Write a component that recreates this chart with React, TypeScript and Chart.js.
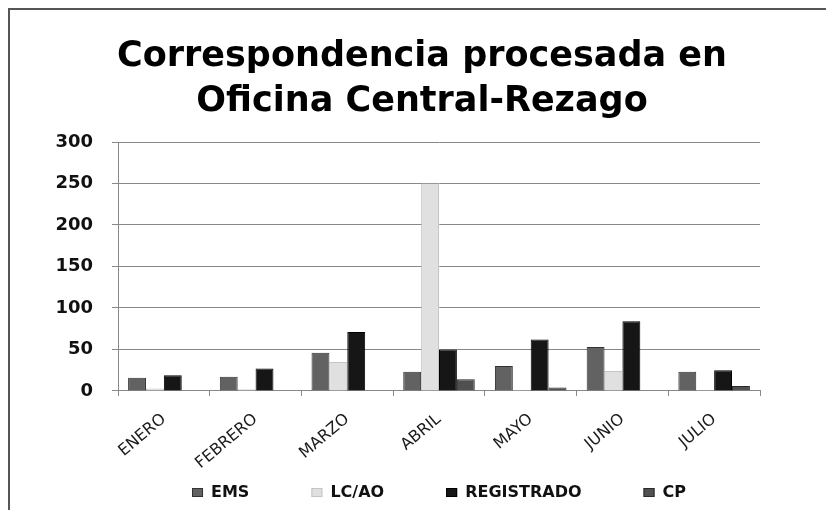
import React, { useEffect, useRef } from "react";
import { Chart, registerables } from "chart.js";

Chart.register(...registerables);

const categories = ["ENERO", "FEBRERO", "MARZO", "ABRIL", "MAYO", "JUNIO", "JULIO"];
const ems = [16, 17, 46, 23, 30, 53, 23];
const lcao = [3, 2, 35, 250, 1, 24, 1];
const registrado = [19, 27, 71, 50, 62, 84, 25];
const cp = [0, 0, 0, 14, 4, 0, 6];
const titleLines = ["Correspondencia procesada en", "Oficina Central-Rezago"];

const FONT = "'DejaVu Sans', sans-serif";

const bottomLegend = {
  id: "bottomLegend",
  afterDraw(chart: any) {
    const { ctx, chartArea } = chart;
    ctx.save();
    ctx.font = `bold 16px ${FONT}`;
    ctx.textBaseline = "middle";
    ctx.textAlign = "left";
    const box = 11;
    const boxGap = 8;
    const gap = 62;
    const items = chart.data.datasets.map((d: any) => ({
      label: d.label as string,
      fill: d.backgroundColor as string,
      stroke: d.borderColor as string,
      w: box + boxGap + ctx.measureText(d.label).width,
    }));
    const total = items.reduce((s: number, it: any) => s + it.w, 0) + gap * (items.length - 1);
    let x = (chartArea.left + chartArea.right) / 2 - total / 2;
    const y = chart.height - 17;
    for (const it of items) {
      ctx.fillStyle = it.fill;
      ctx.fillRect(x, y - 5, box, 9);
      ctx.strokeStyle = it.stroke;
      ctx.lineWidth = 1;
      ctx.strokeRect(x + 0.5, y - 4.5, box - 1, 8);
      ctx.fillStyle = "#111";
      ctx.fillText(it.label, x + box + boxGap, y);
      x += it.w + gap;
    }
    ctx.restore();
  },
};

export default function App() {
  const ref = useRef<HTMLCanvasElement | null>(null);
  useEffect(() => {
    if (!ref.current) return;
    const chart = new Chart(ref.current, {
      type: "bar",
      data: {
        labels: categories,
        datasets: [
          { label: "EMS", data: ems, backgroundColor: "#626262", borderColor: "#333", borderWidth: 1 },
          { label: "LC/AO", data: lcao, backgroundColor: "#e0e0e0", borderColor: "#c4c4c4", borderWidth: 1 },
          { label: "REGISTRADO", data: registrado, backgroundColor: "#161616", borderColor: "#000", borderWidth: 1 },
          { label: "CP", data: cp, backgroundColor: "#505050", borderColor: "#2a2a2a", borderWidth: 1 },
        ],
      },
      plugins: [bottomLegend],
      options: {
        animation: false,
        responsive: true,
        maintainAspectRatio: false,
        layout: { padding: { left: 42, right: 34, top: 14, bottom: 23 } },
        datasets: { bar: { categoryPercentage: 0.78, barPercentage: 1 } },
        plugins: {
          title: {
            display: true,
            text: titleLines,
            color: "#000",
            font: { family: FONT, size: 35, weight: "bold", lineHeight: 1.3 },
            padding: { top: 10, bottom: 17 },
          },
          legend: { display: false },
          tooltip: { enabled: false },
        },
        scales: {
          x: {
            grid: { display: true, drawOnChartArea: false, drawTicks: true, tickLength: 5, offset: true, color: "#888" },
            border: { color: "#888" },
            ticks: {
              color: "#1a1a1a",
              maxRotation: 40,
              minRotation: 40,
              padding: 14,
              font: { family: FONT, size: 16 },
            },
          },
          y: {
            min: 0,
            max: 300,
            afterFit: (s: any) => {
              s.width = 66;
            },
            ticks: {
              stepSize: 50,
              color: "#111",
              padding: 19,
              font: { family: FONT, size: 18, weight: "bold" },
            },
            grid: { color: "#888", drawTicks: true, tickLength: 6 },
            border: { color: "#888" },
          },
          spacer: {
            type: "linear",
            position: "right",
            display: true,
            afterFit: (s: any) => {
              s.width = 32;
            },
            grid: { display: false, drawTicks: false },
            border: { display: false },
            ticks: { display: false },
          },
        },
      },
    });
    return () => chart.destroy();
  }, []);
  return (
    <div
      style={{
        position: "relative",
        width: 816,
        height: 500,
        borderLeft: "2px solid #555",
        borderTop: "2px solid #555",
        background: "#fff",
      }}
    >
      <canvas ref={ref} />
    </div>
  );
}
